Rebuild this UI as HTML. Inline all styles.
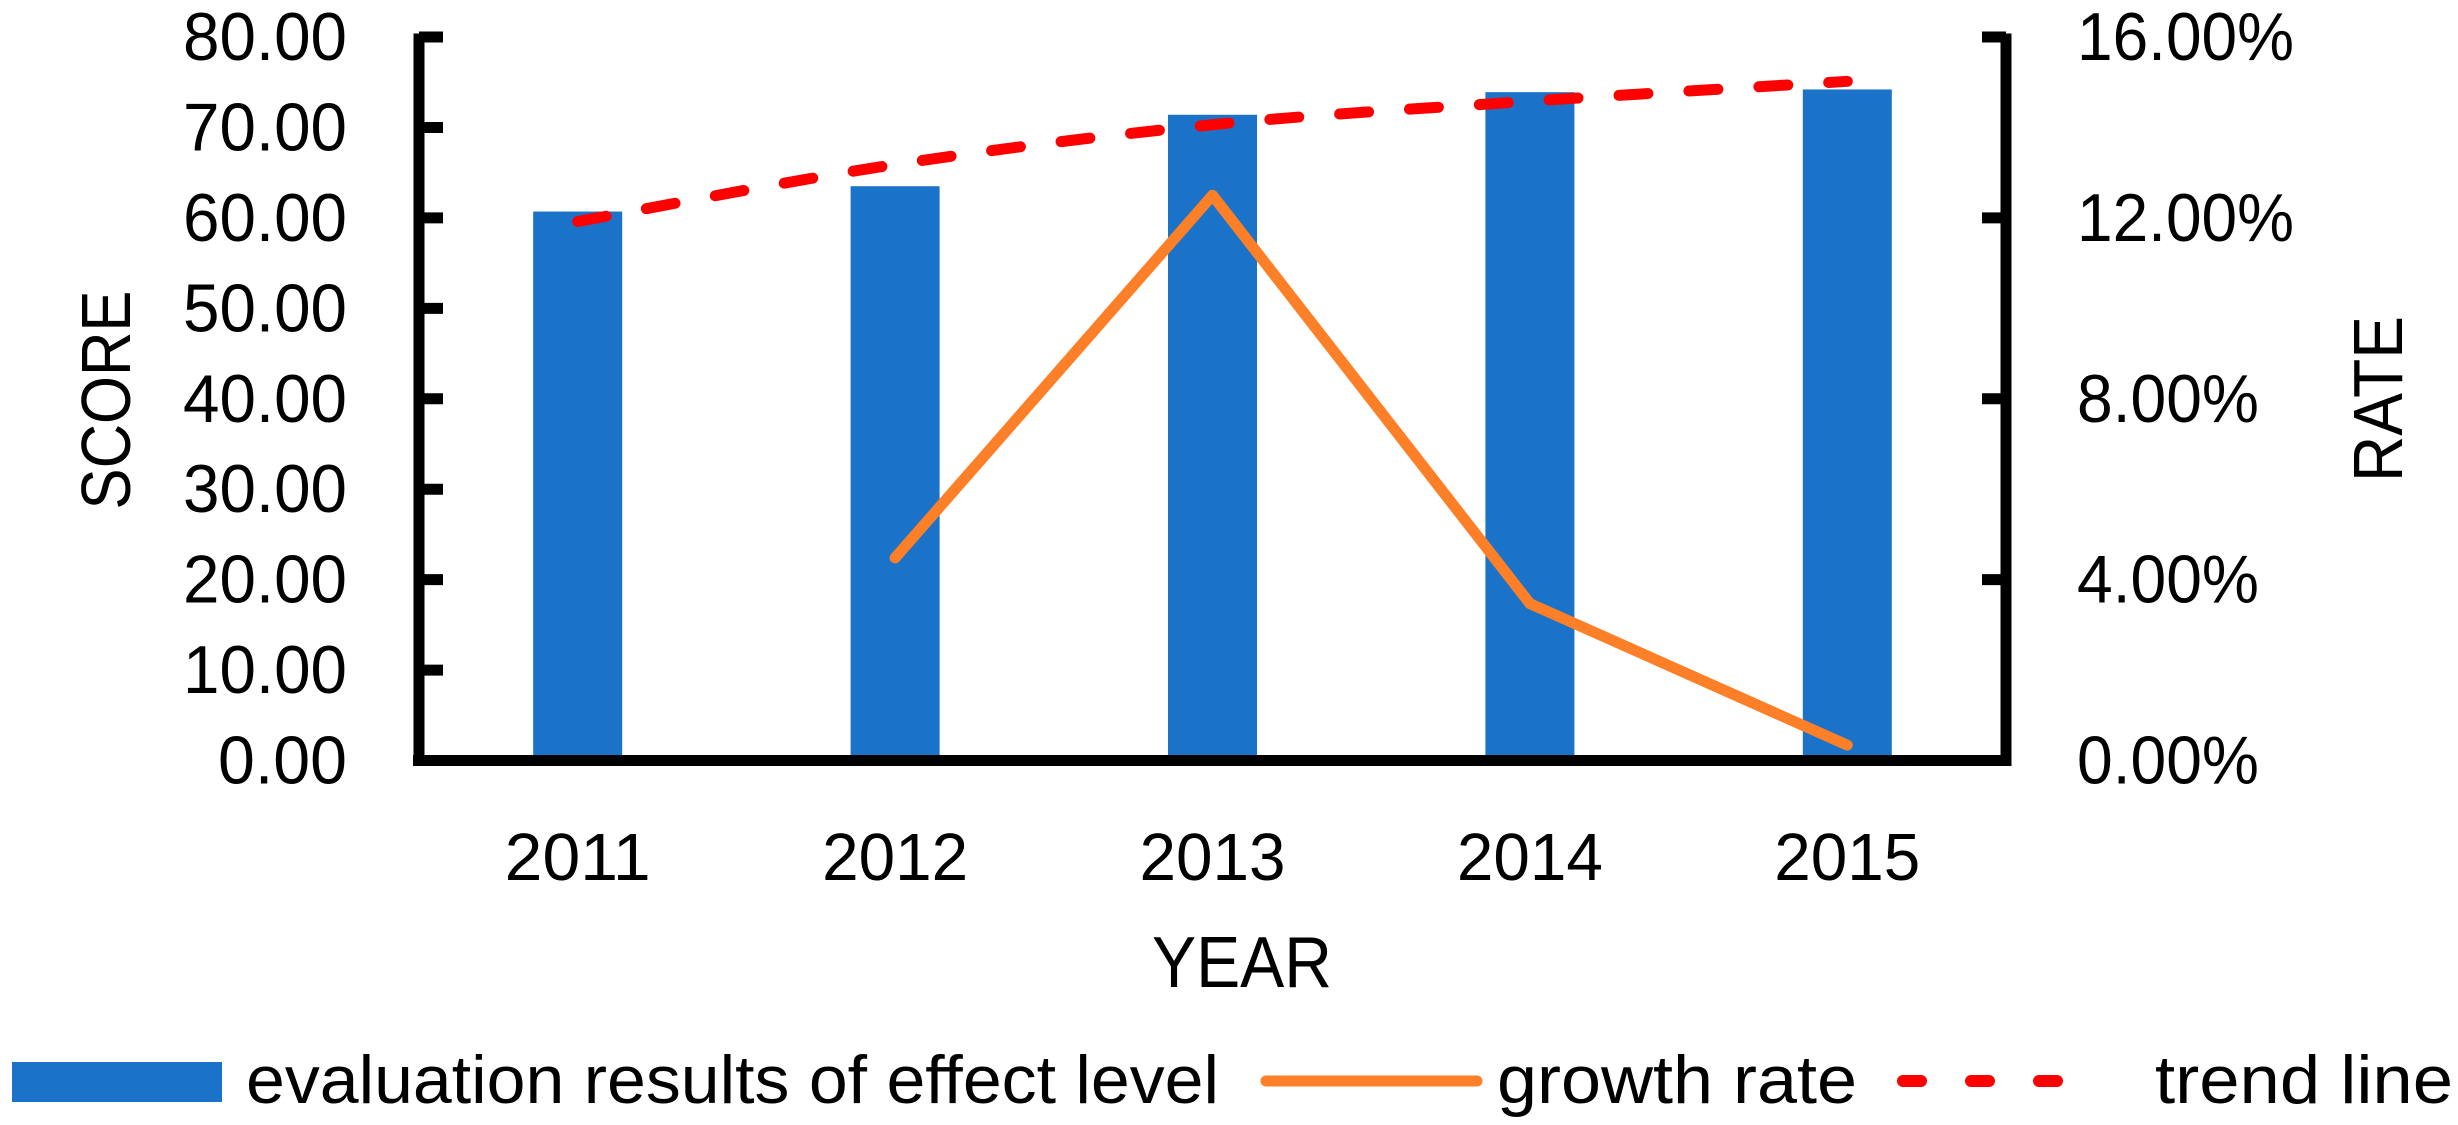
<!DOCTYPE html>
<html><head><meta charset="utf-8"><style>
html,body{margin:0;padding:0;background:#fff;width:2458px;height:1125px;overflow:hidden}
svg text{font-family:"Liberation Sans",sans-serif;fill:#000}
</style></head><body>
<svg id="chart" width="2458" height="1125" viewBox="0 0 2458 1125" xmlns="http://www.w3.org/2000/svg">
<g id="bars"></g>
<g id="lines"></g>
<g id="axes"></g>
<g id="labels"></g>
<text transform="translate(130,400) rotate(-90)" text-anchor="middle" font-size="70" textLength="219" lengthAdjust="spacingAndGlyphs">SCORE</text>
<text transform="translate(2402,399) rotate(-90)" text-anchor="middle" font-size="70" textLength="166" lengthAdjust="spacingAndGlyphs">RATE</text>
<text x="1242" y="987" text-anchor="middle" font-size="72" textLength="180" lengthAdjust="spacingAndGlyphs">YEAR</text>
<g>
  <rect x="12" y="1062" width="210" height="40" fill="#1a73c8"/>
  <text x="246" y="1103" font-size="68" textLength="973" lengthAdjust="spacingAndGlyphs">evaluation results of effect level</text>
  <line x1="1266" y1="1081" x2="1477" y2="1081" stroke="#fd7f28" stroke-width="11" stroke-linecap="round"/>
  <text x="1497" y="1103" font-size="68" textLength="360" lengthAdjust="spacingAndGlyphs">growth rate</text>
  <line x1="1903" y1="1081" x2="2078" y2="1081" stroke="#ff0000" stroke-width="12" stroke-linecap="round" stroke-dasharray="18 50"/>
  <text x="2155" y="1103" font-size="68" textLength="298" lengthAdjust="spacingAndGlyphs">trend line</text>
</g>
</svg>
<script>
const categories = ["2011","2012","2013","2014","2015"];
const scores = [60.7, 63.5, 71.4, 73.9, 74.2];
const growthRates = [null, 4.48, 12.5, 3.47, 0.34];
const trendValues = [59.6, 65.9, 70.3, 72.9, 75.1];
const leftTicks = [0,10,20,30,40,50,60,70,80];
const leftTickLabels = ["0.00","10.00","20.00","30.00","40.00","50.00","60.00","70.00","80.00"];
const rightTicks = [0,4,8,12,16];
const rightTickLabels = ["0.00%","4.00%","8.00%","12.00%","16.00%"];

const NS = "http://www.w3.org/2000/svg";
const X0 = 419, X1 = 2006, Y0 = 760.5, Y1 = 37;
const band = (X1 - X0) / categories.length;
const xC = i => X0 + band * (i + 0.5);
const yL = v => Y0 - (v / 80) * (Y0 - Y1);
const yR = v => Y0 - (v / 16) * (Y0 - Y1);
function mk(tag, attrs, parent){const e=document.createElementNS(NS,tag);for(const k in attrs)e.setAttribute(k,attrs[k]);parent.appendChild(e);return e;}

const gb = document.getElementById('bars');
scores.forEach((v,i)=>{
  const r = mk('rect',{x:xC(i)-44.5,y:yL(v),width:89,height:Y0-yL(v),fill:'#1a73c8'},gb);
  
  
});

const gl = document.getElementById('lines');
const pts = [];
growthRates.forEach((v,i)=>{ if(v!==null) pts.push(xC(i)+','+yR(v)); });
const gline = mk('polyline',{points:pts.join(' '),fill:'none',stroke:'#fd7f28','stroke-width':11,'stroke-linejoin':'round','stroke-linecap':'round'},gl);



const tp = trendValues.map((v,i)=>[xC(i), yL(v)]);
let d = 'M' + tp[0][0] + ',' + tp[0][1];
for (let i = 0; i < tp.length - 1; i++) {
  const p0 = tp[Math.max(0,i-1)], p1 = tp[i], p2 = tp[i+1], p3 = tp[Math.min(tp.length-1,i+2)];
  const c1 = [p1[0] + (p2[0]-p0[0])/6, p1[1] + (p2[1]-p0[1])/6];
  const c2 = [p2[0] - (p3[0]-p1[0])/6, p2[1] - (p3[1]-p1[1])/6];
  d += ' C' + c1.join(',') + ' ' + c2.join(',') + ' ' + p2.join(',');
}
const tl = mk('path',{d:d,fill:'none',stroke:'#ff0000','stroke-width':11,'stroke-linecap':'round','stroke-dasharray':'29 41'},gl);



const ga = document.getElementById('axes');
const ax1 = mk('line',{x1:X0,y1:Y1-3.5,x2:X0,y2:766,stroke:'#000','stroke-width':11},ga);


const ax2 = mk('line',{x1:X1,y1:Y1-3.5,x2:X1,y2:766,stroke:'#000','stroke-width':11},ga);


const ax3 = mk('line',{x1:413,y1:Y0,x2:X1+5.5,y2:Y0,stroke:'#000','stroke-width':11},ga);



const glab = document.getElementById('labels');
leftTicks.forEach((v,i)=>{
  const t = mk('line',{x1:X0,y1:yL(v),x2:443,y2:yL(v),stroke:'#000','stroke-width':11},ga);
  
  
  const tx = mk('text',{x:347,y:yL(v)+23,'text-anchor':'end','font-size':68,textLength:(leftTickLabels[i].length===5?164:129),lengthAdjust:'spacingAndGlyphs'},glab);
  tx.textContent = leftTickLabels[i];
  
  
});
rightTicks.forEach((v,i)=>{
  const t = mk('line',{x1:1982,y1:yR(v),x2:X1,y2:yR(v),stroke:'#000','stroke-width':11},ga);
  
  
  const tx = mk('text',{x:2077,y:yR(v)+23,'font-size':68,textLength:(rightTickLabels[i].length===6?217:182),lengthAdjust:'spacingAndGlyphs'},glab);
  tx.textContent = rightTickLabels[i];
  
  
});
categories.forEach((c,i)=>{
  const tx = mk('text',{x:xC(i),y:880,'text-anchor':'middle','font-size':67,textLength:146,lengthAdjust:'spacingAndGlyphs'},glab);
  tx.textContent = c;
  
  
});
</script>
</body></html>
